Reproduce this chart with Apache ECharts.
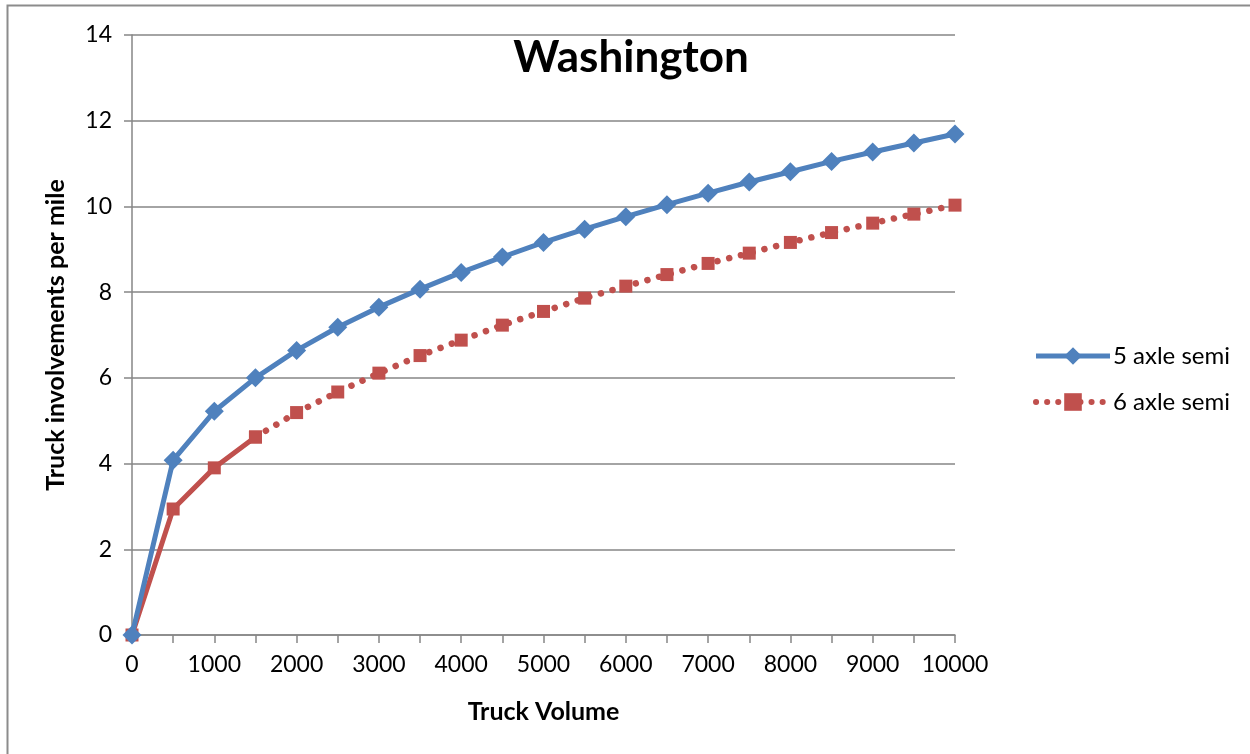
<!DOCTYPE html>
<html>
<head>
<meta charset="utf-8">
<script src="https://cdn.jsdelivr.net/npm/echarts@6/dist/echarts.min.js"></script>
<style>
html,body{margin:0;padding:0;background:#fff;}
#chart{width:1250px;height:754px;}
</style>
</head>
<body>
<div id="chart"></div>
<script>
const truckVolume = [0,500,1000,1500,2000,2500,3000,3500,4000,4500,5000,5500,6000,6500,7000,7500,8000,8500,9000,9500,10000];
const fiveAxleSemi = [0,4.08,5.22,6.0,6.64,7.18,7.65,8.07,8.46,8.82,9.16,9.47,9.76,10.04,10.31,10.57,10.81,11.05,11.27,11.48,11.69];
const sixAxleSemi = [0,2.94,3.9,4.62,5.19,5.67,6.11,6.52,6.88,7.23,7.55,7.86,8.14,8.41,8.67,8.91,9.16,9.39,9.61,9.82,10.03];
const solidUntilIndex = 3; // 6-axle line drawn solid up to x=1500, dotted afterwards
const titleText = 'Washington';
const xAxisTitle = 'Truck Volume';
const yAxisTitle = 'Truck involvements per mile';
const seriesNames = ['5 axle semi','6 axle semi'];

const FONT = 'Lato, "Open Sans", sans-serif';
const BLUE = '#4F81BD', RED = '#C0504D', GRID = '#868686';
const DOTTED = {color:RED, width:6.5, type:[0.1,12], cap:'round'};

const fiveData = truckVolume.map((x,i)=>[x, fiveAxleSemi[i]]);
const sixSolid = truckVolume.map((x,i)=>[x, i<=solidUntilIndex ? sixAxleSemi[i] : null]);
const sixDotted = truckVolume.map((x,i)=>[x, i>=solidUntilIndex ? sixAxleSemi[i] : null]);

const chart = echarts.init(document.getElementById('chart'), null, {renderer:'canvas'});
chart.setOption({
  animation:false,
  backgroundColor:'#fff',
  graphic:[{
    type:'rect', shape:{x:7.5,y:5.5,width:1300,height:800},
    style:{fill:null, stroke:'#8c8c8c', lineWidth:2}, silent:true, z:-1
  }],
  title:{
    text:titleText, left:626, top:31, textAlign:'center',
    textStyle:{fontFamily:FONT, fontWeight:'bold', fontSize:44, color:'#000'}
  },
  grid:{left:132, right:295, top:35, bottom:119, containLabel:false},
  legend:{
    orient:'vertical', left:1028, top:339, itemGap:22,
    itemWidth:74, itemHeight:22,
    data:[
      {name:seriesNames[0], lineStyle:{color:BLUE, width:5, type:'solid'}},
      {name:seriesNames[1], lineStyle:{color:RED, width:6, type:[0.1,11], cap:'round'}}
    ],
    textStyle:{fontFamily:FONT, fontSize:24, color:'#000', padding:[0,0,0,-2]}
  },
  xAxis:{
    type:'value', min:0, max:10000, interval:500,
    name:xAxisTitle, nameLocation:'middle', nameGap:64,
    nameTextStyle:{fontFamily:FONT, fontWeight:'bold', fontSize:25, color:'#000'},
    axisLine:{show:true, lineStyle:{color:GRID, width:1.5}},
    axisTick:{show:true, length:8, lineStyle:{color:GRID, width:1.5}},
    splitLine:{show:false},
    axisLabel:{
      fontFamily:FONT, fontSize:23, color:'#000', margin:18,
      formatter:v=> (v%1000===0 ? String(v) : '')
    }
  },
  yAxis:{
    type:'value', min:0, max:14, interval:2,
    name:yAxisTitle, nameLocation:'middle', nameGap:64, nameRotate:90,
    nameTextStyle:{fontFamily:FONT, fontWeight:'bold', fontSize:25, color:'#000'},
    axisLine:{show:true, lineStyle:{color:GRID, width:1.5}},
    axisTick:{show:true, length:8, lineStyle:{color:GRID, width:1.5}},
    splitLine:{show:true, lineStyle:{color:GRID, width:1.5}},
    axisLabel:{fontFamily:FONT, fontSize:23, color:'#000', margin:20}
  },
  series:[
    {
      name:seriesNames[0], type:'line', data:fiveData,
      symbol:'diamond', symbolSize:19, color:BLUE,
      lineStyle:{color:BLUE, width:5}, itemStyle:{color:BLUE}, z:3
    },
    {
      name:seriesNames[1], type:'line', data:sixDotted, connectNulls:false,
      symbol:'rect', symbolSize:13, color:RED,
      lineStyle:DOTTED,
      itemStyle:{color:RED}, z:2
    },
    {
      name:seriesNames[1]+' (start)', type:'line', data:sixSolid, connectNulls:false,
      symbol:'rect', symbolSize:13, color:RED,
      lineStyle:{color:RED, width:5}, itemStyle:{color:RED}, z:2
    }
  ]
});
</script>
</body>
</html>
